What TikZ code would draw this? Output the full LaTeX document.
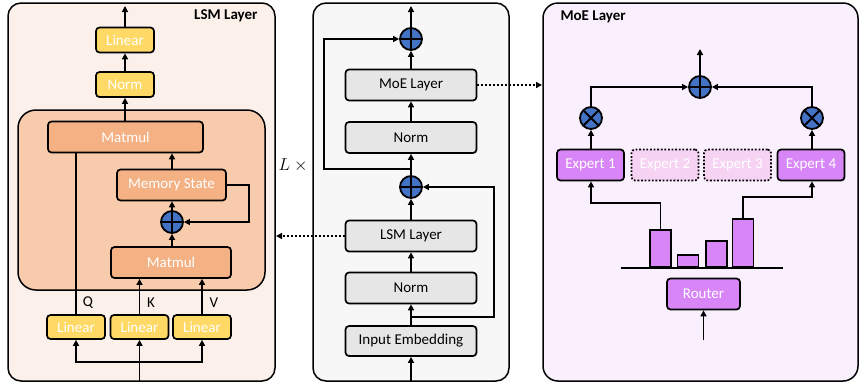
\documentclass[tikz,border=0pt]{standalone}
\usepackage{fontspec}
\setmainfont{Carlito}
\usetikzlibrary{arrows.meta, positioning, calc}
\definecolor{lsmbg}{HTML}{FBF1EA}
\definecolor{lsminner}{HTML}{F8CBAD}
\definecolor{mmfill}{HTML}{F4B183}
\definecolor{linfill}{HTML}{FFD966}
\definecolor{midbg}{HTML}{F7F7F7}
\definecolor{midbox}{HTML}{E7E6E6}
\definecolor{moebg}{HTML}{FAF0FD}
\definecolor{expfill}{HTML}{D886F7}
\definecolor{expfaint}{HTML}{F7D3F3}
\definecolor{opfill}{HTML}{4472C4}
\tikzset{
  blk/.style={draw, line width=1.7pt, rounded corners=3.5pt, inner sep=0pt},
  ylw/.style={blk, fill=linfill, text=white, minimum width=58pt, minimum height=25pt},
  mm/.style={blk, fill=mmfill, text=white, minimum height=31pt},
  gry/.style={blk, fill=midbox, minimum width=131pt, minimum height=31pt},
  exp/.style={blk, fill=expfill, text=white, minimum width=67pt, minimum height=31pt},
  expoff/.style={blk, draw=black, dash pattern=on 1.8pt off 1.8pt, fill=expfaint, text=white,
    minimum width=67pt, minimum height=31pt},
  bar/.style={draw, line width=1.7pt, fill=expfill, anchor=south, minimum width=21pt, inner sep=0pt},
  opadd/.style={circle, draw, line width=1.8pt, fill=opfill, minimum size=22pt, inner sep=0pt,
    path picture={\draw[line width=1.8pt]
      (path picture bounding box.north) -- (path picture bounding box.south)
      (path picture bounding box.west) -- (path picture bounding box.east);}},
  opmul/.style={circle, draw, line width=1.8pt, fill=opfill, minimum size=22pt, inner sep=0pt,
    path picture={\draw[line width=1.8pt]
      (path picture bounding box.north west) -- (path picture bounding box.south east)
      (path picture bounding box.north east) -- (path picture bounding box.south west);}},
  arr/.style={line width=1.9pt, -{Triangle[length=6pt,width=6pt]}},
  wire/.style={line width=1.9pt},
  dotarr/.style={line width=2pt, dash pattern=on 2pt off 2pt, -{Triangle[length=6pt,width=6pt]}},
  panel/.style={draw, line width=1.5pt, rounded corners=13pt}
}

\begin{document}
\begin{tikzpicture}[x=1pt, y=-1pt, every node/.style={font=\fontsize{15}{17}\selectfont}]
\useasboundingbox (0,0) rectangle (859,384);
% panels
\draw[panel, fill=lsmbg] (8,3) rectangle (275,381);
\draw[panel, fill=lsminner, rounded corners=18pt] (18,110) rectangle (265,290);
\draw[panel, fill=midbg] (313,3) rectangle (509,381);
\draw[panel, fill=moebg, rounded corners=15pt] (543,3) rectangle (858,381);
\node[anchor=east, font=\fontsize{15}{17}\selectfont\bfseries] (lsmtitle) at (261,16) {LSM Layer};
\node[anchor=west, font=\fontsize{15}{17}\selectfont\bfseries] (moetitle) at (557,17) {MoE Layer};
\node[font=\fontsize{16}{18}\selectfont] (times) at (295,165) {$L\times{}$};

% LSM layer
\node[ylw] (lsmlin) at (125,40) {Linear};
\node[ylw] (lsmnorm) at (125,84.5) {Norm};
\node[mm, minimum width=155pt] (mmtop) at (125.5,137) {Matmul};
\node[mm, minimum width=109pt] (mem) at (171.5,185) {Memory State};
\node[opadd] (addm) at (172,222) {};
\node[mm, minimum width=120pt] (mmlow) at (171,262.5) {Matmul};
\node[ylw, minimum height=24pt] (linq) at (76,327) {Linear};
\node[ylw, minimum height=24pt] (link) at (139.5,327) {Linear};
\node[ylw, minimum height=24pt] (linv) at (202,327) {Linear};
\node (labq) at (88,303) {Q};
\node (labk) at (151,303) {K};
\node (labv) at (214,303) {V};
\coordinate (lsmout) at (125,6);
\coordinate (lsmin) at (139.5,381);
\coordinate (lsmsplit) at (139.5,362);
\draw[arr] (lsmlin.north) -- (lsmout);
\draw[arr] (lsmnorm.north) -- (lsmlin.south);
\draw[arr] (mmtop.north -| lsmnorm) -- (lsmnorm.south);
\draw[arr] (mem.north -| addm) -- (addm |- mmtop.south);
\draw[arr] (addm.north) -- (addm.north |- mem.south);
\draw[arr] (mmlow.north -| addm) -- (addm.south);
\draw[arr] (mem.east) -- ++(22,0) |- (addm.east);
\draw[wire] (linq.north) -- (linq.north |- mmtop.south);
\draw[arr] (link.north) -- (link.north |- mmlow.south);
\draw[arr] (linv.north) -- (linv.north |- mmlow.south);
\draw[arr] (lsmin) -- (link.south);
\draw[arr] (lsmsplit) -| (linq.south);
\draw[arr] (lsmsplit) -| (linv.south);

% backbone
\node[opadd] (add2) at (411,39) {};
\node[gry] (mmoe) at (411,85) {MoE Layer};
\node[gry] (mnorm2) at (411,137.5) {Norm};
\node[opadd] (add1) at (411,187) {};
\node[gry] (mlsm) at (411,236) {LSM Layer};
\node[gry] (mnorm1) at (411,288) {Norm};
\node[gry, minimum height=30pt] (membed) at (411,341) {Input Embedding};
\coordinate (mout) at (411,6);
\coordinate (min) at (411,381);
\coordinate (mjunc1) at (411,317);
\coordinate (mjunc2) at (411,169);
\draw[arr] (min) -- (membed.south);
\draw[arr] (membed.north) -- (mnorm1.south);
\draw[arr] (mnorm1.north) -- (mlsm.south);
\draw[arr] (mlsm.north) -- (add1.south);
\draw[arr] (add1.north) -- (mnorm2.south);
\draw[arr] (mnorm2.north) -- (mmoe.south);
\draw[arr] (mmoe.north) -- (add2.south);
\draw[arr] (add2.north) -- (mout);
\draw[arr] (mjunc1) -- ++(83,0) |- (add1.east);
\draw[arr] (mjunc2) -- ++(-87,0) |- (add2.west);

% MoE layer
\node[opadd] (addx) at (700,87) {};
\node[opmul] (ot1) at (591,118) {};
\node[opmul] (ot4) at (812,118) {};
\node[exp] (exp1) at (590.5,165) {Expert 1};
\node[expoff] (exp2) at (665,165) {Expert 2};
\node[expoff] (exp3) at (737.5,165) {Expert 3};
\node[exp] (exp4) at (811,165) {Expert 4};
\coordinate (basel) at (621,268);
\coordinate (baser) at (783,268);
\draw[wire] (basel) -- (baser);
\node[bar, minimum height=37pt] (bar1) at (660.5,268) {};
\node[bar, minimum height=12pt] (bar2) at (688,268) {};
\node[bar, minimum height=26pt] (bar3) at (716.5,268) {};
\node[bar, minimum height=48pt] (bar4) at (743,268) {};
\node[exp, minimum width=73pt] (router) at (703.5,294) {Router};
\coordinate (moeout) at (700,49);
\coordinate (rin) at (703.5,340);
\draw[arr] (addx.north) -- (moeout);
\draw[arr] (ot1.north) |- (addx.west);
\draw[arr] (ot4.north) |- (addx.east);
\draw[arr] (exp1.north -| ot1) -- (ot1.south);
\draw[arr] (exp4.north -| ot4) -- (ot4.south);
\draw[arr] (bar1.north) -- ++(0,-26) -| (exp1.south -| ot1);
\draw[arr] (bar4.north) -- ++(0,-21) -| (exp4.south -| ot4);
\draw[arr] (rin) -- (router.south);

% links between panels
\coordinate (lsmport) at (276,236);
\coordinate (moeport) at (542,85);
\draw[dotarr] (mlsm.west) -- (lsmport);
\draw[dotarr] (mmoe.east) -- (moeport);
\end{tikzpicture}
\end{document}
